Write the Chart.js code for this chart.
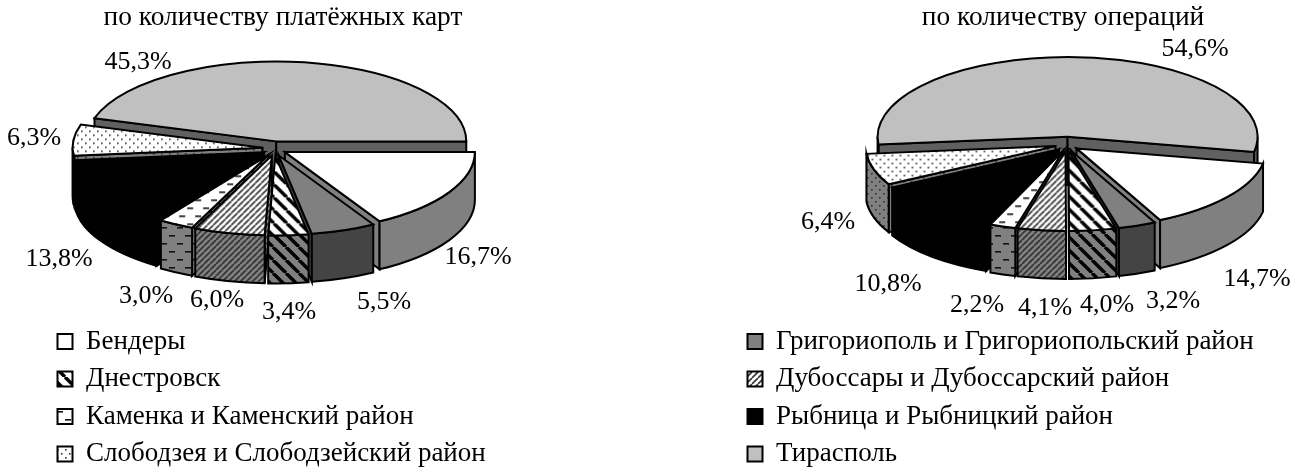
<!DOCTYPE html>
<html>
<head>
<meta charset="utf-8">
<style>
html,body{margin:0;padding:0;background:#fff;overflow:hidden}
#wrap{position:relative;width:1301px;height:468px}
#wrapLeft{position:absolute;left:0;top:0;width:650px;height:468px}
#wrapRight{position:absolute;left:650px;top:0;width:651px;height:468px}
</style>
<script src="https://cdn.jsdelivr.net/npm/chart.js@4/dist/chart.umd.min.js"></script>
</head>
<body>
<div id="wrap">
  <div id="wrapLeft"><canvas id="cards"></canvas></div>
  <div id="wrapRight"><canvas id="operations"></canvas></div>
</div>
<script>
const cityLabels=['Бендеры','Григориополь и Григориопольский район','Днестровск','Дубоссары и Дубоссарский район','Каменка и Каменский район','Рыбница и Рыбницкий район','Слободзея и Слободзейский район','Тирасполь']
const cardShares=[16.7,5.5,3.4,6.0,3.0,13.8,6.3,45.3]
const operationShares=[14.7,3.2,4.0,4.1,2.2,10.8,6.4,54.6]
const cardsTitle='по количеству платёжных карт'
const operationsTitle='по количеству операций'

// куда ставить подписи: [x,y] центра текста на канвасе
const cardSpots=[[478,257],[384,302],[289,312],[217,300],[146,296],[59,259],[34,138],[138,62]]
const operationSpots=[[607,279],[523,301],[457,305],[395,308],[327,305],[238,284],[178,222],[545,49]]

const FONT='"Liberation Serif", serif'
const SQUASH=0.42
const DEPTH=48
const EXPLODE=12
const EXPLODE_Y=0.6

function makePattern(bg,kind){
  const c=document.createElement('canvas')
  const g=c.getContext('2d')
  const size={stripeWide:13,stripeFine:6,dash:16,dots:8}[kind]
  c.width=size
  c.height=size
  g.fillStyle=bg
  g.fillRect(0,0,size,size)
  if(kind=='stripeWide'){
    g.strokeStyle='#000'
    g.lineWidth=3.4
    g.beginPath()
    for(let i=-1;i<=1;i++){
      g.moveTo(i*size,0)
      g.lineTo(i*size+size,size)
    }
    g.stroke()
  }
  if(kind=='stripeFine'){
    g.strokeStyle='#333'
    g.lineWidth=1.6
    g.beginPath()
    for(let i=-1;i<=1;i++){
      g.moveTo(i*size+size,0)
      g.lineTo(i*size,size)
    }
    g.stroke()
  }
  if(kind=='dash'){
    g.fillStyle='#111'
    g.fillRect(1,3,6,1.6)
    g.fillRect(9,11,6,1.6)
  }
  if(kind=='dots'){
    g.fillStyle='#333'
    g.fillRect(1,1,1.6,1.6)
    g.fillRect(5,5,1.6,1.6)
  }
  const p=g.createPattern(c,'repeat')
  p.setTransform(new DOMMatrix())
  return p
}

const topFill=['#ffffff','#808080',makePattern('#fff','stripeWide'),makePattern('#fff','stripeFine'),makePattern('#fff','dash'),'#000000',makePattern('#fff','dots'),'#c0c0c0']
const sideFill=['#808080','#444444',makePattern('#808080','stripeWide'),makePattern('#808080','stripeFine'),makePattern('#808080','dash'),'#000000',makePattern('#808080','dots'),'#606060']

function fillStroke(ctx,fill){
  ctx.fillStyle=fill
  ctx.fill()
  ctx.stroke()
}

function drawSlice(ctx,arc,i){
  const mid=(arc.startAngle+arc.endAngle)/2
  const r=arc.outerRadius
  const s=arc.startAngle
  const e=arc.endAngle
  const tx=arc.x+Math.cos(mid)*EXPLODE
  const ty=arc.y+Math.sin(mid)*EXPLODE*EXPLODE_Y

  ctx.lineWidth=2
  ctx.strokeStyle='#000'
  ctx.lineJoin='miter'

  // боковые грани разреза, только те что смотрят на нас
  const cuts=[]
  if(Math.cos(s)<0) cuts.push(s)
  if(Math.cos(e)>0) cuts.push(e)
  cuts.forEach(a=>{
    const rx=tx+Math.cos(a)*r
    const ry=ty+Math.sin(a)*r*SQUASH
    ctx.beginPath()
    ctx.moveTo(tx,ty)
    ctx.lineTo(rx,ry)
    ctx.lineTo(rx,ry+DEPTH)
    ctx.lineTo(tx,ty+DEPTH)
    ctx.closePath()
    fillStroke(ctx,sideFill[i])
  })

  // наружная стенка, передняя половина эллипса
  for(let k=0;k<2;k++){
    const lo=Math.max(s,k*2*Math.PI)
    const hi=Math.min(e,k*2*Math.PI+Math.PI)
    if(hi<=lo) continue
    ctx.beginPath()
    ctx.ellipse(tx,ty,r,r*SQUASH,0,lo,hi)
    ctx.ellipse(tx,ty+DEPTH,r,r*SQUASH,0,hi,lo,true)
    ctx.closePath()
    fillStroke(ctx,sideFill[i])
  }

  // верх рисует сам элемент Chart.js, поджатый по вертикали
  const unsquash=new DOMMatrix().scale(1,1/SQUASH)
  if(topFill[i] instanceof CanvasPattern) topFill[i].setTransform(unsquash)
  ctx.save()
  ctx.translate(tx,ty)
  ctx.scale(1,SQUASH)
  ctx.translate(-arc.x,-arc.y)
  arc.draw(ctx)
  ctx.restore()
  if(topFill[i] instanceof CanvasPattern) topFill[i].setTransform(new DOMMatrix())

  ctx.beginPath()
  ctx.moveTo(tx,ty)
  ctx.ellipse(tx,ty,r,r*SQUASH,0,s,e)
  ctx.closePath()
  ctx.stroke()
}

const pie3d={
  id:'pie3d',
  afterLayout(chart){
    // легенда шире и ниже, чем ей отводит раскладка
    const legend=chart.legend
    legend.right=chart.width
    legend.width=chart.width-legend.left
    legend.bottom+=10
  },
  afterDatasetsUpdate(chart,args,opts){
    chart.getDatasetMeta(0).data.forEach(arc=>{
      arc.x=opts.cx
      arc.y=opts.cy
    })
  },
  beforeDatasetDraw(chart,args){
    const ctx=chart.ctx
    const arcs=args.meta.data.map((arc,i)=>({arc,i}))
    arcs.sort((a,b)=>Math.sin((a.arc.startAngle+a.arc.endAngle)/2)-Math.sin((b.arc.startAngle+b.arc.endAngle)/2))
    ctx.save()
    arcs.forEach(o=>drawSlice(ctx,o.arc,o.i))
    ctx.restore()
    return false
  },
  afterDraw(chart,args,opts){
    const ctx=chart.ctx
    ctx.save()
    ctx.fillStyle='#000'
    ctx.textAlign='center'
    ctx.textBaseline='middle'
    ctx.font='26px '+FONT
    chart.data.datasets[0].data.forEach((v,i)=>{
      const spot=opts.spots[i]
      ctx.fillText(v.toFixed(1).replace('.',',')+'%',spot[0],spot[1])
    })
    ctx.font='27.4px '+FONT
    ctx.fillText(opts.title,opts.titleX,18)
    ctx.restore()
  }
}

function buildPie(id,shares,title,titleX,spots,cx,cy,rotation,legendLeft,keepIndex){
  return new Chart(document.getElementById(id),{
    type:'pie',
    plugins:[pie3d],
    data:{
      labels:cityLabels,
      datasets:[{data:shares,backgroundColor:topFill,borderWidth:0,radius:190}]
    },
    options:{
      responsive:true,
      maintainAspectRatio:false,
      animation:false,
      rotation:rotation,
      layout:{padding:{left:legendLeft}},
      plugins:{
        tooltip:{enabled:false},
        pie3d:{title:title,titleX:titleX,spots:spots,cx:cx,cy:cy},
        legend:{
          position:'left',
          align:'end',
          labels:{
            boxWidth:15,
            boxHeight:15,
            padding:10.5,
            color:'#000',
            font:{family:FONT,size:27},
            generateLabels(chart){
              return Chart.overrides.pie.plugins.legend.labels.generateLabels(chart)
                .map(item=>({...item,strokeStyle:'#000',lineWidth:2}))
                .filter(item=>item.index%2==keepIndex)
            }
          }
        }
      }
    }
  })
}

buildPie('cards',cardShares,cardsTitle,283,cardSpots,274.5,148.5,90,47,0)
buildPie('operations',operationShares,operationsTitle,413,operationSpots,417,144,101,87,1)
</script>
</body>
</html>
